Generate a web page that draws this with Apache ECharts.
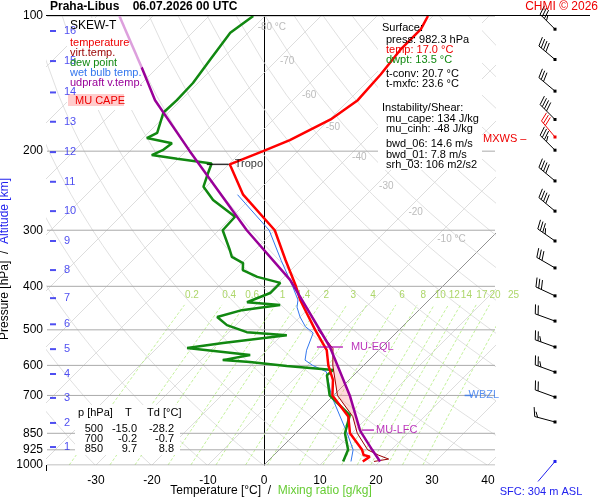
<!DOCTYPE html>
<html>
<head>
<meta charset="utf-8">
<script src="https://cdn.jsdelivr.net/npm/echarts@6/dist/echarts.min.js"></script>
<style>html,body{margin:0;padding:0;background:#fff}#chart{width:600px;height:500px}</style>
</head>
<body>
<div id="chart"></div>
<script>
// temperature profile [hPa, °C]
var tempP = [982, 958, 950, 925, 850, 780, 700, 646, 600, 555, 500, 451, 429, 400, 350, 300, 250, 214, 200, 189, 170, 154, 135, 119, 107, 100];
var tempT = [17.0, 17.4, 16.0, 14.8, 9.7, 6.4, -0.2, -2.9, -6.3, -9.3, -15.0, -20.4, -23.0, -26.2, -32.7, -40.0, -52.0, -59.8, -56.2, -53.4, -49.8, -48.4, -48.9, -49.8, -49.8, -50.9];
// virtual temperature
var virtP = [982, 970, 950, 925, 850, 780, 700, 600, 550, 500];
var virtT = [19.0, 21.2, 18.6, 15.8, 11.0, 7.2, 0.7, -5.5, -8.5, -14.5];
// dew point
var dewP = [982, 925, 850, 774, 700, 631, 614, 602, 590, 584, 569, 549, 535, 514, 506, 488, 468, 452, 440, 434, 414, 393, 381, 368, 355, 344, 332, 300, 280, 257, 240, 224, 213, 208, 204, 199, 192, 187, 182, 164, 154, 141, 125, 109, 100];
var dewT = [13.5, 12.3, 8.8, 6.4, -0.7, -4.8, -4.6, -13.6, -20.9, -26.1, -22.1, -34.6, -29.1, -19.1, -26.8, -31.6, -34.8, -31.6, -25.7, -32.1, -29.6, -29.6, -34.8, -38.6, -39.8, -42.9, -44.5, -49.3, -49.5, -56.4, -60.5, -62.1, -63.2, -70.2, -75.4, -74.3, -73.9, -79.3, -78.4, -80.9, -80.7, -80.9, -82.0, -83.2, -82.1];
// wet bulb temperature
var wetP = [982, 925, 850, 700, 620, 600, 584, 555, 508, 492, 468, 445, 429, 400, 350, 300, 250];
var wetT = [14.9, 13.2, 9.2, -0.4, -5.5, -9.1, -11.4, -12.9, -14.8, -17.3, -20.0, -22.3, -23.4, -26.8, -33.5, -41.0, -53.0];
// MU parcel (updraft virtual temperature)
var parcelP = [982, 925, 850, 836, 700, 546, 387, 300, 200, 154, 130];
var parcelT = [20.1, 16.6, 11.8, 10.9, 2.9, -9.3, -28.4, -45.0, -69.3, -84.6, -92.9];
var parcelTopP = [130, 100];
var parcelTopT = [-92.9, -106.0];
// CAPE area (parcel side up, virtual side down)
var capeP = [836, 700, 620, 546, 550, 600, 700, 780, 836];
var capeT = [10.9, 2.9, -3.4, -9.3, -8.5, -5.5, 0.7, 7.2, 10.5];

var pLevels = [100, 200, 300, 400, 500, 600, 700, 850, 925, 1000];
var tTicks = [-30, -20, -10, 0, 10, 20, 30, 40];
var mixRatios = [0.2, 0.4, 0.6, 1, 1.4, 2, 3, 4, 6, 8, 10, 12, 14, 17, 20, 25];
var isoLabels = [-80, -70, -60, -50, -40, -30, -20, -10];
var isoLabelP = [106, 126, 150, 177, 206, 239, 274, 315];
var altKm = [1, 2, 3, 4, 5, 6, 7, 8, 9, 10, 11, 12, 13, 14, 15, 16];
var altP = [912, 806, 709, 627, 552, 486, 425, 368, 317, 272, 234, 201, 172, 148, 126, 108];
// wind barbs: pressure, direction (deg), speed (kt)
var windP = [107, 125, 147, 170, 199, 233, 272, 317, 364, 420, 478, 546, 621, 706, 802];
var windDir = [315, 310, 310, 315, 315, 310, 310, 305, 300, 295, 290, 290, 290, 290, 285];
var windSpd = [35, 40, 30, 40, 35, 40, 40, 35, 30, 30, 20, 25, 25, 20, 15];
var maxWindP = 186, maxWindDir = 320, maxWindSpd = 30;

var tabP = [500, 700, 850], tabT = [-15.0, -0.2, 9.7], tabTd = [-28.2, -0.7, 8.8];

var K = 449 / 5.6;
var XMIN = -38.75, XMAX = 41.25;
function Y(p) { return 3 - Math.log10(p); }
function sk(T, p) { return [T + K * Y(p), Y(p)]; }
function prof(P, T) { return P.map(function (p, i) { return sk(T[i], p); }); }
function lineS(data, color, width, extra) {
    return Object.assign({ type: 'line', data: data, symbol: 'none', silent: true, clip: true, z: 1,
        lineStyle: { color: color, width: width } }, extra || {});
}

var series = [];
// isotherms
for (var t = -130; t <= 40; t += 10) {
    series.push(lineS([sk(t, 1000), sk(t, 100)], t === 0 ? '#777' : '#d4d4d4', 0.8));
}
// dry adiabats
for (var th = 233; th <= 483; th += 10) {
    var d = [];
    for (var p = 1000; p >= 100; p -= 25) d.push(sk(th * Math.pow(p / 1000, 0.2857) - 273.15, p));
    series.push(lineS(d, '#d8d8d8', 0.8));
}
// mixing ratio lines
function tdFromW(w, p) {
    var e = w * p / (622 + w);
    var l = Math.log(e / 6.112);
    return 243.5 * l / (17.67 - l);
}
mixRatios.forEach(function (w) {
    var d = [];
    for (var p = 1000; p >= 440; p -= 20) d.push(sk(tdFromW(w, p), p));
    series.push(lineS(d, '#b4ee80', 0.8, { lineStyle: { color: '#b4ee80', width: 0.8, type: [3, 2] } }));
});
// pressure lines
pLevels.forEach(function (p) {
    series.push(lineS([[XMIN, Y(p)], [XMAX, Y(p)]], '#aaa', 1));
});
// labels for mixing ratio
series.push({ type: 'scatter', symbolSize: 0, silent: true, clip: false, z: 1,
    data: mixRatios.map(function (w) { return { value: sk(tdFromW(w, 418), 418), w: w }; }),
    label: { show: true, position: 'inside', color: '#99cc44', fontSize: 10, fontFamily: 'Liberation Sans',
        formatter: function (o) { return o.data.w; } } });
// isotherm labels
series.push({ type: 'scatter', symbolSize: 0, silent: true, z: 1,
    data: isoLabels.map(function (t, i) { return { value: sk(t, isoLabelP[i]), t: t }; }),
    label: { show: true, position: 'right', distance: 4, color: '#aaa', fontSize: 10, fontFamily: 'Liberation Sans',
        formatter: function (o) { return (o.data.t === -80 || o.data.t === -10) ? o.data.t + ' °C' : o.data.t; } } });
// CAPE fill
series.push({ type: 'custom', silent: true, data: [0], z: 3,
    renderItem: function (params, api) {
        var pts = capeP.map(function (p, i) { return api.coord(sk(capeT[i], p)); });
        return { type: 'polygon', shape: { points: pts }, style: { fill: 'rgba(255,150,150,0.35)' } };
    } });
// profiles
series.push(lineS(prof(wetP, wetT), '#3377ee', 1, { z: 3 }));
series.push(lineS(prof(dewP, dewT), '#118811', 2.5, { z: 3 }));
series.push(lineS(prof(tempP, tempT), '#ff0000', 2.5, { z: 3 }));
series.push(lineS(prof(virtP, virtT), '#990000', 1, { z: 3 }));
series.push(lineS(prof(parcelP, parcelT), '#990099', 2.5, { z: 3 }));
series.push(lineS(prof(parcelTopP, parcelTopT), '#dda0dd', 2.5, { z: 3 }));
// altitude km labels
series.push({ type: 'scatter', silent: true, symbol: 'rect', symbolSize: [6, 2], symbolOffset: [6, 0], z: 3,
    itemStyle: { color: '#2222ee' },
    data: altKm.map(function (k, i) { return { value: [XMIN, Y(altP[i])], k: k }; }),
    label: { show: true, position: 'right', distance: 8, color: '#2222ee', fontSize: 11, fontFamily: 'Liberation Sans',
        formatter: function (o) { return o.data.k; } } });
// level annotations
series.push({ type: 'scatter', silent: true, symbol: 'rect', clip: false, z: 4,
    data: [
        { value: sk(-59.8, 214), symbolSize: [22, 1.5], symbolOffset: [-12, 0], itemStyle: { color: '#000' },
          label: { formatter: 'Tropo', color: '#000', distance: 6 } },
        { value: sk(-9.3, 546), symbolSize: [26, 1.5], itemStyle: { color: '#aa00aa' },
          label: { formatter: 'MU-EQL', color: '#aa00aa', distance: 8 } },
        { value: sk(10.9, 836), symbolSize: [12, 1.5], symbolOffset: [8, 0], itemStyle: { color: '#aa00aa' },
          label: { formatter: 'MU-LFC', color: '#aa00aa', distance: 2 } },
        { value: [XMAX - 4, Y(700)], symbolSize: [8, 1.5], symbolOffset: [-4, 0], itemStyle: { color: '#3377ee' },
          label: { formatter: 'WBZL', color: '#3377ee', distance: -4 } }
    ],
    label: { show: true, position: 'right', fontSize: 11, fontFamily: 'Liberation Sans' } });
// wind barbs
function barb(api, p, dir, spd, color) {
    var c = api.coord([XMAX, Y(p)]);
    var x0 = c[0] + 60, y0 = c[1];
    var r = dir * Math.PI / 180, L = 21;
    var ux = Math.sin(r), uy = -Math.cos(r);
    var tx = x0 + ux * L, ty = y0 + uy * L;
    var bx = -uy, by = ux;
    var ch = [{ type: 'line', shape: { x1: x0, y1: y0, x2: tx, y2: ty }, style: { stroke: color, lineWidth: 1 } },
              { type: 'rect', shape: { x: x0 - 1.5, y: y0 - 1.5, width: 3, height: 3 }, style: { fill: color } }];
    var full = Math.floor(spd / 10), half = (spd % 10) >= 5 ? 1 : 0;
    for (var i = 0; i < full + half; i++) {
        var len = i < full ? 9 : 5;
        var sx = tx - ux * 3 * i, sy = ty - uy * 3 * i;
        ch.push({ type: 'line', shape: { x1: sx, y1: sy, x2: sx + bx * len + ux * 3, y2: sy + by * len + uy * 3 },
            style: { stroke: color, lineWidth: 1 } });
    }
    return ch;
}
series.push({ type: 'custom', silent: true, clip: false, data: [0], z: 3,
    renderItem: function (params, api) {
        var ch = [];
        windP.forEach(function (p, i) { ch = ch.concat(barb(api, p, windDir[i], windSpd[i], '#000')); });
        ch = ch.concat(barb(api, maxWindP, maxWindDir, maxWindSpd, '#ee0000'));
        var s = api.coord([XMAX, Y(982)]);
        ch.push({ type: 'line', shape: { x1: s[0] + 60, y1: s[1], x2: s[0] + 43, y2: s[1] + 20 }, style: { stroke: '#2222ee', lineWidth: 1 } });
        ch.push({ type: 'rect', shape: { x: s[0] + 58.5, y: s[1] - 1.5, width: 3, height: 3 }, style: { fill: '#2222ee' } });
        return { type: 'group', children: ch };
    } });

var F = 'Liberation Sans';
function txt(x, y, s, color, align, font) {
    return { type: 'text', x: x, y: y, z: 10, style: { text: s, fill: color || '#000', font: font || ('11px ' + F), align: align || 'left' } };
}
var tabLines = [];
tabP.forEach(function (p, i) {
    tabLines.push(txt(103, 423 + i * 10, String(p), '#000', 'right'));
    tabLines.push(txt(137, 423 + i * 10, tabT[i].toFixed(1), '#000', 'right'));
    tabLines.push(txt(174, 423 + i * 10, tabTd[i].toFixed(1), '#000', 'right'));
});

var graphic = [
    { type: 'rect', z: 2, shape: { x: 67, y: 18, width: 73, height: 92 }, style: { fill: '#fff' } },
    { type: 'rect', z: 2, shape: { x: 68, y: 94, width: 56, height: 12 }, style: { fill: '#ffcccc' } },
    { type: 'rect', z: 2, shape: { x: 378, y: 20, width: 104, height: 150 }, style: { fill: '#fff' } },
    { type: 'rect', z: 2, shape: { x: 75, y: 405, width: 105, height: 50 }, style: { fill: '#fff' } },
    { type: 'line', z: 10, shape: { x1: 46, y1: 15.5, x2: 590, y2: 15.5 }, style: { stroke: '#000', lineWidth: 1 } },
    { type: 'line', z: 10, shape: { x1: 46.5, y1: 465, x2: 46.5, y2: 471 }, style: { stroke: '#000', lineWidth: 1 } },
    txt(50, 1, 'Praha-Libus    06.07.2026 00 UTC', '#000', 'left', 'bold 12px ' + F),
    txt(598, 1, 'CHMI © 2026', '#ee0000', 'right', '12px ' + F),
    txt(70, 20, 'SKEW-T', '#000', 'left', '12px ' + F),
    txt(70, 37, 'temperature', '#ee0000'),
    txt(70, 47, 'virt.temp.', '#990000'),
    txt(70, 57, 'dew point', '#118811'),
    txt(70, 67, 'wet bulb temp.', '#3377ee'),
    txt(70, 77, 'udpraft v.temp.', '#990099'),
    txt(75, 95, 'MU CAPE', '#ee0000'),
    txt(382, 22, 'Surface:'),
    txt(386, 34, 'press: 982.3 hPa'),
    txt(386, 44, 'temp: 17.0 °C', '#ee0000'),
    txt(386, 54, 'dwpt: 13.5 °C', '#118811'),
    txt(386, 68, 't-conv: 20.7 °C'),
    txt(386, 78, 't-mxfc: 23.6 °C'),
    txt(382, 102, 'Instability/Shear:'),
    txt(386, 113, 'mu_cape: 134 J/kg'),
    txt(386, 123, 'mu_cinh: -48 J/kg'),
    txt(386, 138, 'bwd_06: 14.6 m/s'),
    txt(386, 149, 'bwd_01: 7.8 m/s'),
    txt(386, 159, 'srh_03: 106 m2/s2'),
    txt(483, 133, 'MXWS –', '#ee0000'),
    txt(78, 407, 'p [hPa]    T     Td [°C]'),
    txt(541, 486, 'SFC: 304 m ASL', '#2222ee', 'center'),
    { type: 'text', x: 271, y: 485, z: 10, style: { rich: { a: { fill: '#000', font: '12px ' + F }, b: { fill: '#66cc33', font: '12px ' + F } },
        text: '{a|Temperature [°C]  /  }{b|Mixing ratio [g/kg]}', align: 'center' } },
    { type: 'text', x: 5, y: 259, z: 10, rotation: Math.PI / 2, style: { rich: { a: { fill: '#000', font: '12px ' + F }, b: { fill: '#2222ee', font: '12px ' + F } },
        text: '{a|Pressure [hPa]  /  }{b|Altitude [km]}', align: 'center', verticalAlign: 'middle' } }
].concat(tabLines);

var chart = echarts.init(document.getElementById('chart'));
chart.setOption({
    animation: false,
    grid: { left: 47, right: 105, top: 16, bottom: 35 },
    xAxis: { type: 'value', min: XMIN, max: XMAX, axisLine: { show: false }, axisTick: { show: false }, splitLine: { show: false },
        axisLabel: { customValues: tTicks, color: '#000', fontSize: 12, fontFamily: F, margin: 10 } },
    yAxis: { type: 'value', min: 0, max: 1, splitLine: { show: false },
        axisLine: { show: true, lineStyle: { color: '#000' } }, axisTick: { show: false },
        axisLabel: { customValues: pLevels.map(Y), color: '#000', fontSize: 12, fontFamily: F, margin: 4,
            formatter: function (v) { return Math.round(Math.pow(10, 3 - v)); } } },
    series: series,
    graphic: graphic
});
</script>
</body>
</html>
